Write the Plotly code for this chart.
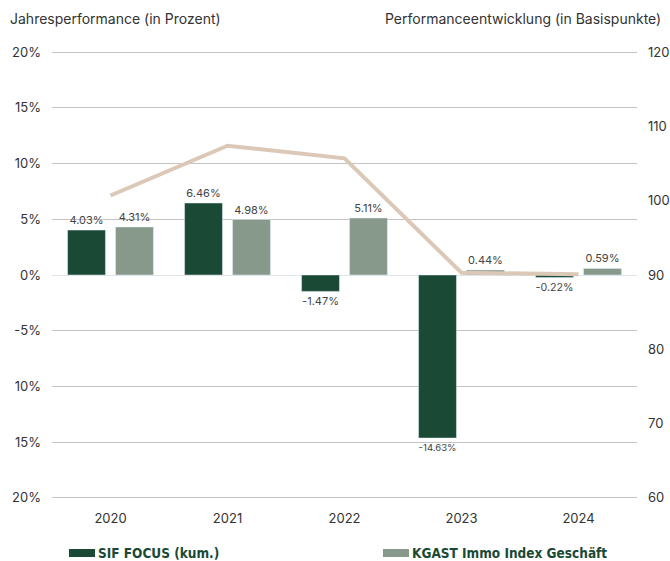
import plotly.graph_objects as go

years = ["2020", "2021", "2022", "2023", "2024"]
sif_focus = [4.03, 6.46, -1.47, -14.63, -0.22]
kgast = [4.31, 4.98, 5.11, 0.44, 0.59]
perf_index = [100.7, 107.4, 105.7, 90.3, 90.1]

left_ticks = [20, 15, 10, 5, 0, -5, -10, -15, -20]
left_ticktext = ["20%", "15%", "10%", "5%", "0%", "-5%", "10%", "15%", "20%"]
right_ticks = [60, 70, 80, 90, 100, 110, 120]
legend_names = ["SIF FOCUS (kum.)", "KGAST Immo Index Geschäft"]

DARK = "#1a4935"
LIGHT = "#86998b"
LINE = "#dbc8b6"
TXT = "#333333"
FONT = "Inter"

fig = go.Figure()
fig.add_trace(go.Bar(
    x=years, y=sif_focus, name=legend_names[0], marker_color=DARK,
    texttemplate="%{y:.2f}%", textposition="outside",
    textfont=dict(size=11, color="#444444", family=FONT), cliponaxis=False,
))
fig.add_trace(go.Bar(
    x=years, y=kgast, name=legend_names[1], marker_color=LIGHT,
    texttemplate="%{y:.2f}%", textposition="outside",
    textfont=dict(size=11, color="#444444", family=FONT), cliponaxis=False,
))
fig.add_trace(go.Scatter(
    x=years, y=perf_index, yaxis="y2", mode="lines", showlegend=False,
    line=dict(color=LINE, width=4),
))

PW, PH = 585, 448
def px(xp):
    return (xp - 52) / PW
def py(yp):
    return (499 - yp) / PH

shapes = []
annotations = [
    dict(text="Jahresperformance (in Prozent)", xref="paper", yref="paper",
         x=px(8), y=py(18), xanchor="left", yanchor="middle",
         showarrow=False, font=dict(size=14, color=TXT, family=FONT)),
    dict(text="Performanceentwicklung (in Basispunkte)", xref="paper", yref="paper",
         x=px(663), y=py(18), xanchor="right", yanchor="middle",
         showarrow=False, font=dict(size=14, color=TXT, family=FONT)),
]
for name, color, x0 in zip(legend_names, [DARK, LIGHT], [69, 383]):
    shapes.append(dict(type="rect", xref="paper", yref="paper",
                       x0=px(x0), x1=px(x0 + 26), y0=py(557), y1=py(549),
                       fillcolor=color, line=dict(width=0)))
    annotations.append(dict(text=f"<b>{name}</b>", xref="paper", yref="paper",
                            x=px(x0 + 27), y=py(553), xanchor="left", yanchor="middle",
                            showarrow=False,
                            font=dict(size=13.5, color=DARK, family="DejaVu Sans Condensed")))

fig.update_layout(
    width=670, height=561,
    margin=dict(l=52, r=33, t=51, b=62, autoexpand=False),
    paper_bgcolor="white", plot_bgcolor="white",
    showlegend=False,
    barmode="group", bargap=0.18, bargroupgap=0.21,
    font=dict(family=FONT, color=TXT, size=13),
    xaxis=dict(showgrid=False, showline=False, ticks="", ticklabelstandoff=10,
               tickfont=dict(size=13, color=TXT)),
    yaxis=dict(range=[-20.1, 20.1], tickvals=left_ticks, ticktext=left_ticktext,
               showgrid=True, gridcolor="#c4c4c4", gridwidth=1,
               zeroline=True, zerolinecolor="#dde3e8", zerolinewidth=1,
               ticklabelstandoff=10, tickfont=dict(size=13, color=TXT)),
    yaxis2=dict(range=[59.85, 120.15], tickvals=right_ticks, overlaying="y", side="right",
                showgrid=False, zeroline=False, ticklabelstandoff=10,
                tickfont=dict(size=13, color=TXT)),
    shapes=shapes,
    annotations=annotations,
)

fig.write_html("out.html")
